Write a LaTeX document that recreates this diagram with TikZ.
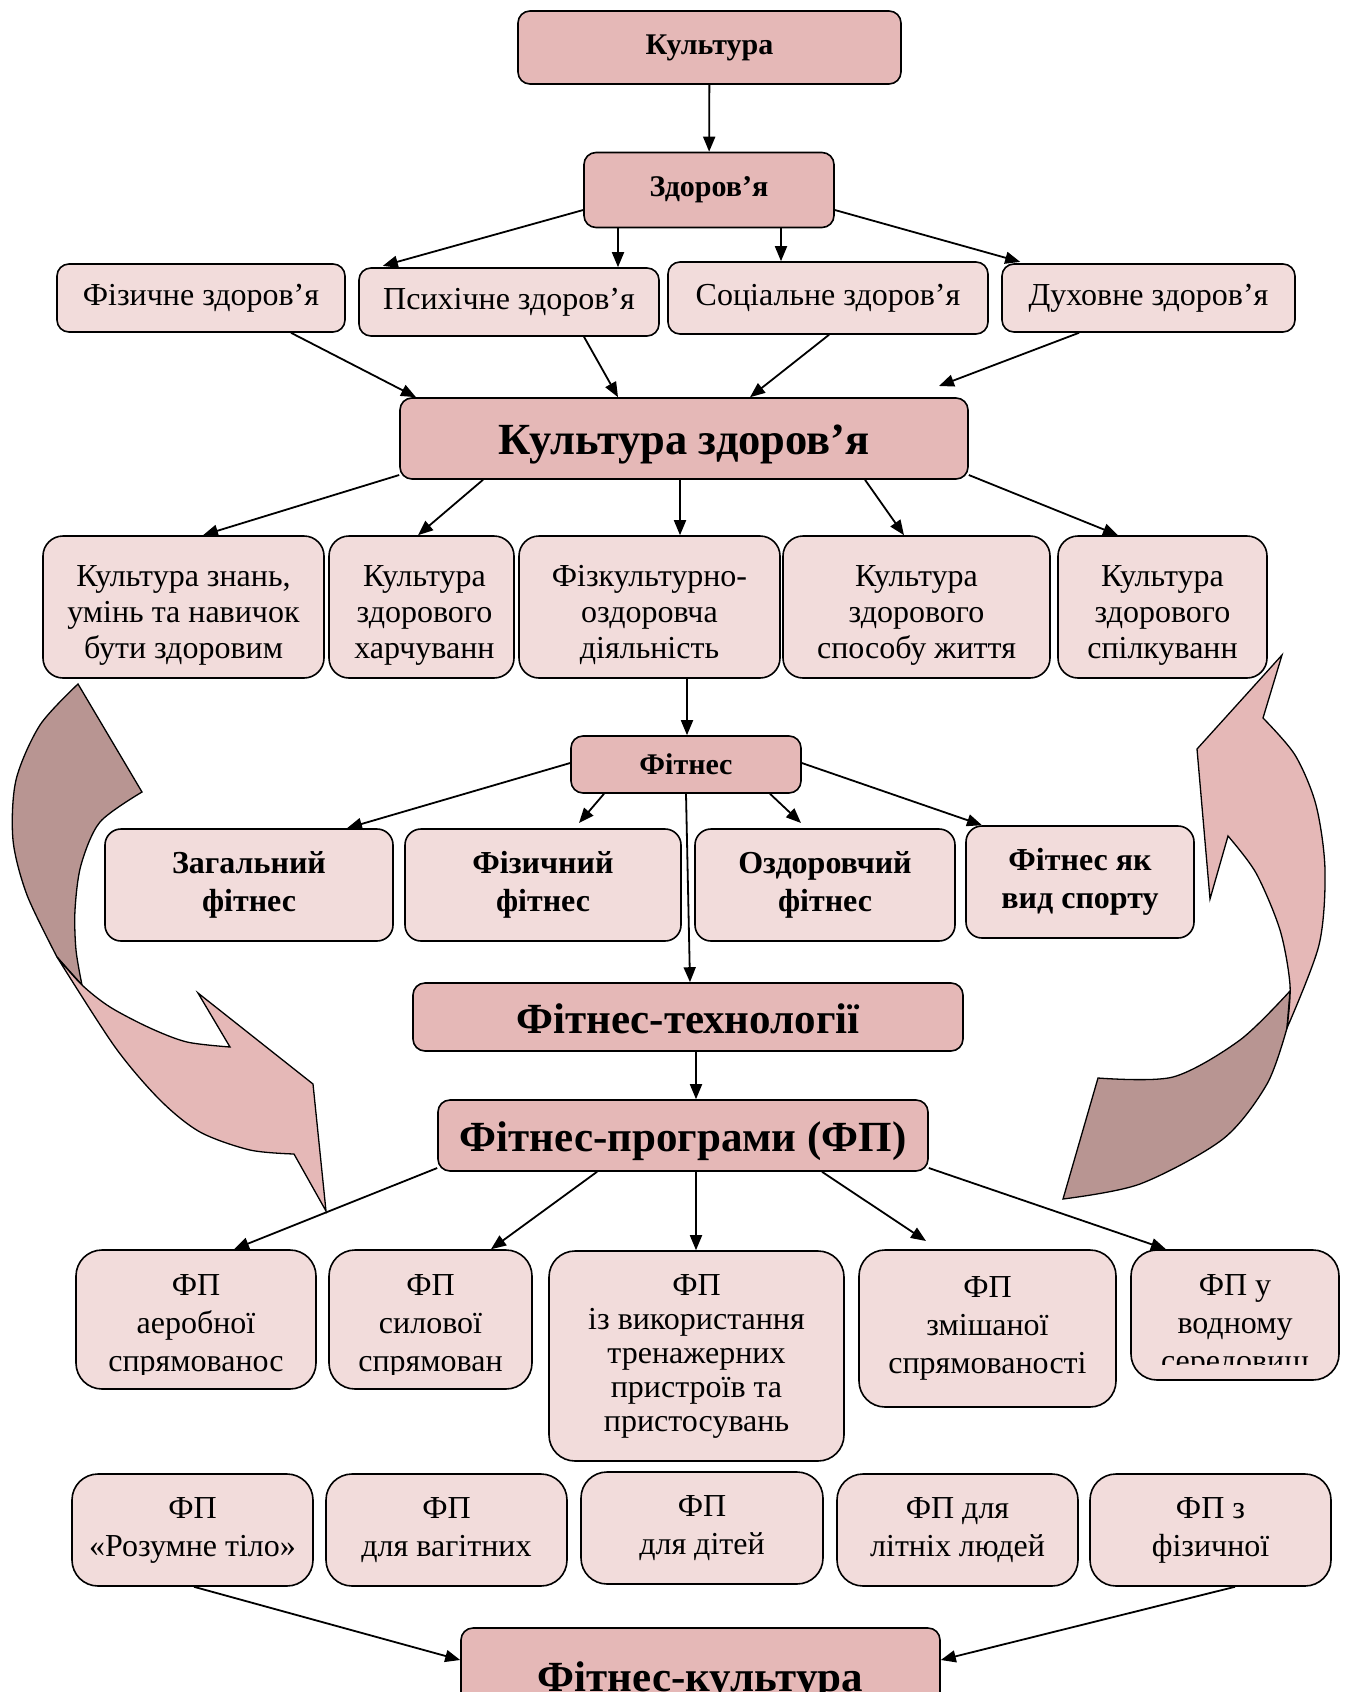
\documentclass[tikz,border=0pt]{standalone}
\usepackage{fontspec}
\setmainfont{Liberation Serif}
\usetikzlibrary{arrows.meta}
\definecolor{boxdark}{HTML}{E5B8B7}
\definecolor{boxlight}{HTML}{F2DCDB}
\definecolor{taildark}{HTML}{B89592}
\newcommand\rowstrut{\rule{0pt}{37pt}}
\tikzset{
  sz/.style 2 args={minimum width=#1pt, minimum height=#2pt},
  basebox/.style={draw=black, line width=1.6pt, align=center, inner sep=0pt},
  dbox/.style={basebox, fill=boxdark, rounded corners=12pt, font=\bfseries\fontsize{30}{36}\selectfont},
  bigbox/.style={basebox, fill=boxdark, rounded corners=12pt, font=\bfseries\fontsize{43}{48}\selectfont, text height=32pt, text depth=0pt},
  lbox/.style={basebox, fill=boxlight, rounded corners=12pt, font=\fontsize{32}{37}\selectfont},
  rowbox/.style={lbox, rounded corners=20pt, font=\fontsize{32}{36}\selectfont},
  fitbox/.style={basebox, fill=boxlight, rounded corners=16pt, font=\bfseries\fontsize{32}{38}\selectfont},
  fpbox/.style={lbox, rounded corners=26pt, font=\fontsize{32}{38}\selectfont},
  fptext/.style={align=center, inner sep=0pt, font=\fontsize{32}{38}\selectfont},
  conn/.style={line width=1.8pt, -{Triangle[length=15pt,width=12pt]}},
  ribbon/.style={draw=black, line width=1.3pt, line join=miter},
}
\begin{document}
\begin{tikzpicture}[x=1pt, y=-1pt]
\useasboundingbox (0,0) rectangle (1354,1692);

% ---- curved arrows (behind) ----
\path[ribbon, fill=taildark] (78,684) -- (142,792)
  -- plot[smooth] coordinates {(142,792) (100,822) (81,865) (75,910) (76,950) (82,985)}
  -- (57,957)
  -- plot[smooth] coordinates {(57,957) (27,895) (13,840) (16,780) (40,725) (78,684)}
  -- cycle;
\path[ribbon, fill=boxdark] (57,957)
  -- plot[smooth] coordinates {(57,957) (82,985) (110,1007) (150,1028) (187,1042) (230,1047)}
  -- (198,993) -- (313,1084) -- (326,1211) -- (294,1154)
  -- plot[smooth] coordinates {(294,1154) (250,1150) (200,1132) (160,1100) (115,1047) (57,957)}
  -- cycle;

\path[ribbon, fill=taildark] (1063,1199) -- (1098,1078)
  -- plot[smooth] coordinates {(1098,1078) (1173,1077) (1240,1040) (1290,991)}
  -- (1287,1028)
  -- plot[smooth] coordinates {(1287,1028) (1267,1084) (1223,1139) (1140,1184) (1063,1199)}
  -- cycle;
\path[ribbon, fill=boxdark] (1282,655) -- (1263,718)
  -- plot[smooth] coordinates {(1263,718) (1295,755) (1316,805) (1325,870) (1319,945) (1287,1028)}
  -- plot[smooth] coordinates {(1287,1028) (1290,985) (1280,930) (1256,873) (1228,836)}
  -- (1210,899) -- (1197,749) -- cycle;

% ---- nodes ----
\node[dbox, sz={383}{73}] (kult) at (709.5,47.5) {Культура};
\node[dbox, sz={250}{75}] (zdor) at (709,190) {Здоров’я};

\node[lbox, sz={288}{68}] (fiz) at (201,298) {Фізичне здоров’я};
\node[lbox, sz={300}{68}] (psy) at (509,302) {Психічне здоров’я};
\node[lbox, sz={320}{72}] (soc) at (828,298) {Соціальне здоров’я};
\node[lbox, sz={293}{68}] (duh) at (1148.5,298) {Духовне здоров’я};

\node[bigbox, sz={568}{81}, font=\bfseries\fontsize{44.5}{48}\selectfont] (kz) at (684,438.5) {Культура здоров’я};

\node[rowbox, sz={281}{142}] (r3a) at (183.5,607) {\rowstrut Культура знань,\\умінь та навичок\\бути здоровим};
\node[rowbox, sz={185}{142}] (r3b) at (421.5,607) {\rowstrut\hspace*{6pt}Культура\\\hspace*{6pt}здорового\\\hspace*{6pt}харчуванн};
\node[rowbox, sz={261}{142}] (r3c) at (649.5,607) {\rowstrut Фізкультурно-\\оздоровча\\діяльність};
\node[rowbox, sz={267}{142}] (r3d) at (916.5,607) {\rowstrut Культура\\здорового\\способу життя};
\node[rowbox, sz={209}{142}] (r3e) at (1162.5,607) {\rowstrut Культура\\здорового\\спілкуванн};

\node[dbox, sz={230}{57}] (fit) at (686,764.5) {Фітнес};

\node[fitbox, sz={288}{112}] (f1) at (249,885) {Загальний\\фітнес};
\node[fitbox, sz={276}{112}] (f2) at (543,885) {Фізичний\\фітнес};
\node[fitbox, sz={260}{112}] (f3) at (825,885) {Оздоровчий\\фітнес};
\node[fitbox, sz={228}{112}] (f4) at (1080,882) {Фітнес як\\вид спорту};

\node[bigbox, sz={550}{68}] (tech) at (688,1017) {Фітнес-технології};
\node[bigbox, sz={490}{71}] (prog) at (683,1135.5) {Фітнес-програми (ФП)};

\node[fpbox, sz={240}{139}] (p1) at (196,1319.5) {};
\begin{scope}
  \clip (76,1250) rectangle (316,1374);
  \node[fptext] (p1t) at (196,1326) {ФП\\аеробної\\спрямованос};
\end{scope}
\node[fpbox, sz={203}{139}] (p2) at (430.5,1319.5) {};
\begin{scope}
  \clip (329,1250) rectangle (532,1374);
  \node[fptext] (p2t) at (430.5,1326) {ФП\\силової\\спрямован};
\end{scope}
\node[fpbox, sz={295}{210}, font=\fontsize{32}{34}\selectfont] (p3) at (696.5,1356) {ФП\\із використання\\тренажерних\\пристроїв та\\пристосувань};
\node[fpbox, sz={257}{157}] (p4) at (987.5,1328.5) {ФП\\змішаної\\спрямованості};
\node[fpbox, sz={208}{130}] (p5) at (1235,1315) {};
\begin{scope}
  \clip (1131,1250) rectangle (1339,1364);
  \node[fptext] (p5t) at (1235,1326) {ФП у\\водному\\середовищ};
\end{scope}

\node[fpbox, sz={241}{112}] (b1) at (192.5,1530) {ФП\\«Розумне тіло»};
\node[fpbox, sz={241}{112}] (b2) at (446.5,1530) {ФП\\для вагітних};
\node[fpbox, sz={242}{112}] (b3) at (702,1528) {ФП\\для дітей};
\node[fpbox, sz={241}{112}] (b4) at (957.5,1530) {ФП для\\літніх людей};
\node[fpbox, sz={241}{112}] (b5) at (1210.5,1530) {ФП з\\фізичної};

\node[bigbox, sz={479}{94}] (fk) at (700.5,1675) {Фітнес-культура};

% ---- free arrow ends ----
\coordinate (a9) at (939,386);
\coordinate (a17) at (579,823);
\coordinate (a18) at (801,823);
\coordinate (a25) at (926,1241);

% ---- connectors ----
\draw[conn] (kult) -- (zdor);
\draw[conn, shorten >=5pt] (zdor.west |- 0,210) -- (psy.north -| 378,0);
\draw[conn] (zdor.south -| 618,0) -- (psy.north -| 618,0);
\draw[conn] (zdor.south -| 781,0) -- (soc.north -| 781,0);
\draw[conn, shorten >=5pt] (zdor.east |- 0,210) -- (duh.north -| 1025,0);

\draw[conn] (fiz.south -| 291,0) -- (kz.north -| 416,0);
\draw[conn] (psy.south -| 584,0) -- (kz.north -| 618,0);
\draw[conn] (soc.south -| 829,0) -- (kz.north -| 750,0);
\draw[conn] (duh.south -| 1079,0) -- (a9);

\draw[conn] (kz.west |- 0,475) -- (r3a.north -| 203,0);
\draw[conn] (kz.south -| 483,0) -- (r3b.north -| 418,0);
\draw[conn] (kz.south -| 680,0) -- (r3c.north -| 680,0);
\draw[conn] (kz.south -| 865,0) -- (r3d.north -| 904,0);
\draw[conn] (kz.east |- 0,475) -- (r3e.north -| 1118,0);

\draw[conn] (r3c.south -| 687,0) -- (fit.north -| 687,0);
\draw[conn] (fit.west |- 0,763) -- (f1.north -| 347,0);
\draw[conn] (fit.south -| 604,0) -- (a17);
\draw[conn] (fit.south -| 770,0) -- (a18);
\draw[conn] (fit.east |- 0,763) -- (f4.north -| 982,0);
\draw[conn] (fit.south -| 686,0) -- (tech.north -| 690,0);

\draw[conn] (tech.south -| 696,0) -- (prog.north -| 696,0);
\draw[conn] (prog.west |- 0,1168) -- (p1.north -| 234,0);
\draw[conn] (prog.south -| 597,0) -- (p2.north -| 491,0);
\draw[conn] (prog.south -| 696,0) -- (p3.north -| 696,0);
\draw[conn] (prog.south -| 822,0) -- (a25);
\draw[conn] (prog.east |- 0,1168) -- (p5.north -| 1166,0);

\draw[conn] (b1.south -| 194,0) -- (fk.west |- 0,1660);
\draw[conn] (b5.south -| 1235,0) -- (fk.east |- 0,1660);
\end{tikzpicture}
\end{document}
